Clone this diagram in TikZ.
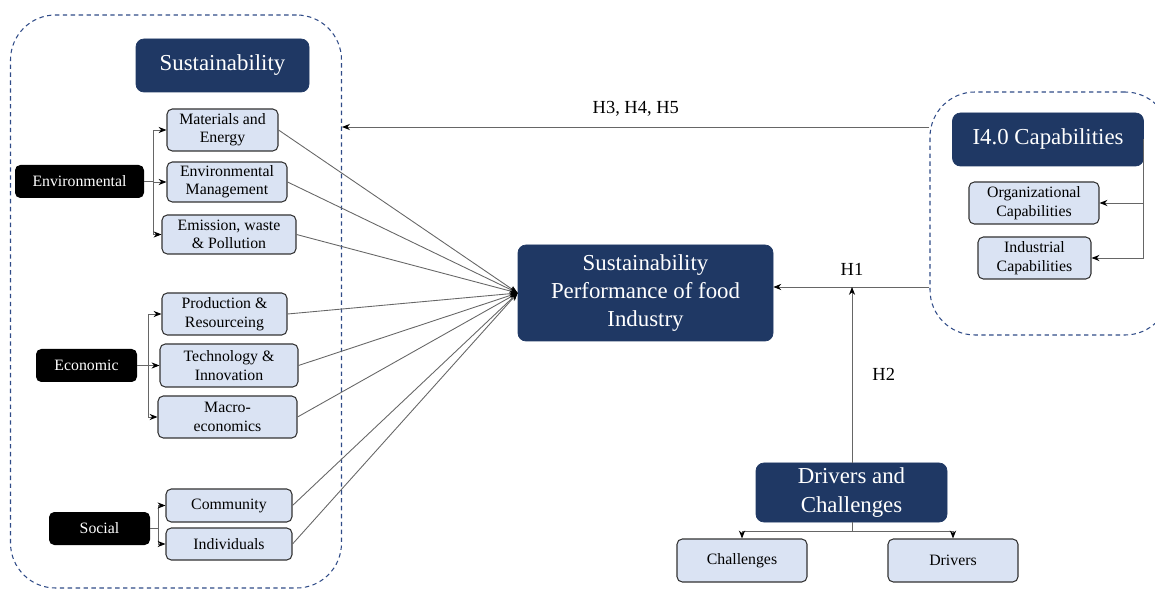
\documentclass[tikz,border=0pt]{standalone}
\usepackage{fontspec}
\setmainfont{Liberation Serif}
\usetikzlibrary{positioning,arrows.meta}

\definecolor{navy}{RGB}{31,56,100}
\definecolor{paleblue}{RGB}{218,227,243}
\definecolor{groupblue}{RGB}{47,75,135}

\begin{document}
\begin{tikzpicture}[
    x=0.02cm, y=-0.02cm,
    boxsize/.style 2 args={minimum width=#1*0.02cm, minimum height=#2*0.02cm},
    headnode/.style={rectangle, rounded corners=4.5pt, fill=navy, draw=navy, text=white,
        align=center, inner sep=0pt, font=\fontsize{13}{16}\selectfont},
    dimnode/.style={rectangle, rounded corners=3pt, fill=black, text=white,
        inner sep=0pt, font=\fontsize{9}{10.5}\selectfont},
    itemnode/.style={rectangle, rounded corners=3pt, fill=paleblue, draw=black!80, line width=0.6pt,
        align=center, inner sep=0pt, font=\fontsize{9}{10.5}\selectfont},
    groupbox/.style={rectangle, rounded corners=0.9cm, draw=groupblue, line width=0.6pt,
        dash pattern=on 2.5pt off 2pt},
    link/.style={->, >={Stealth[length=4.5pt, width=3.5pt, black]}, draw=black!60, line width=0.5pt},
    hyp/.style={font=\fontsize{10.5}{12}\selectfont, inner sep=0pt}
    ]
        \path[use as bounding box, clip] (0,0) rectangle (1155,590);

        %Groups
        \node[groupbox, boxsize={331}{573}] (susgroup) at (176,301.5) {};
        \node[groupbox, boxsize={240}{243}] (capgroup) at (1050,213.5) {};

        %Nodes
        \node[headnode, boxsize={173}{53}] (sus) at (222.5,65.5) {Sustainability};

        \node[dimnode, boxsize={129}{33}] (env) at (79.5,181.5) {Environmental};
        \node[itemnode, boxsize={111}{42}] (mat) at (222.5,130) {Materials and\\Energy};
        \node[itemnode, boxsize={120}{40}] (emg) at (227,182) {Environmental\\Management};
        \node[itemnode, boxsize={134}{39}] (emi) at (229,234.5) {Emission, waste\\\& Pollution};

        \node[dimnode, boxsize={101}{33}] (eco) at (86.5,365.5) {Economic};
        \node[itemnode, boxsize={125}{42}] (pro) at (224.5,314) {Production \&\\Resourceing};
        \node[itemnode, boxsize={138}{43}] (tec) at (229,365.5) {Technology \&\\Innovation};
        \node[itemnode, boxsize={139}{42}] (mac) at (227.5,417) {Macro-\\economics};

        \node[dimnode, boxsize={101}{33}] (soc) at (99.5,528.5) {Social};
        \node[itemnode, boxsize={126}{33}] (com) at (229,505.5) {Community};
        \node[itemnode, boxsize={126}{32}] (ind) at (229,544) {Individuals};

        \node[headnode, boxsize={255}{96}] (perf) at (645.5,293)
            {Sustainability\\Performance of food\\Industry};

        \node[headnode, boxsize={191}{53}] (cap) at (1048,139.5) {I4.0 Capabilities};
        \node[itemnode, boxsize={130}{42}] (org) at (1034,203) {Organizational\\Capabilities};
        \node[itemnode, boxsize={113}{42}] (inc) at (1034.5,258) {Industrial\\Capabilities};

        \node[headnode, boxsize={191}{59}] (dc) at (851.5,492.5) {Drivers and\\Challenges};
        \node[itemnode, boxsize={130}{43}] (cha) at (742,560.5) {Challenges};
        \node[itemnode, boxsize={130}{43}] (dri) at (953,560.5) {Drivers};

        \coordinate (h3) at (655,127);
        \coordinate (h1) at (852,287);

        %Lines
        \foreach \s in {mat,emg,emi}
            \draw[link] (env.east) -- ++(9,0) |- (\s.west);
        \foreach \s in {pro,tec,mac}
            \draw[link] (eco.east) -- ++(11,0) |- (\s.west);
        \foreach \s in {com,ind}
            \draw[link] (soc.east) -- ++(8,0) |- (\s.west);

        \foreach \s in {mat,emg,emi,pro,tec,mac,com,ind}
            \draw[link] (\s.east) -- (perf.west);

        \draw[link] (h3 -| capgroup.west) -- node[hyp, above=0.2cm] {H3, H4, H5} (h3 -| susgroup.east);
        \draw[link] (h1 -| capgroup.west) -- (h1 -| perf.east);
        \node[hyp, above=0.22cm] (h1label) at (h1) {H1};
        \draw[link] (dc.north -| h1) -- node[hyp, right=0.4cm] {H2} (h1);

        \draw[link] (cap.east) |- (org.east);
        \draw[link] (cap.east) |- (inc.east);

        \draw[link] (dc.south -| h1) -- ++(0,9) -| (cha.north);
        \draw[link] (dc.south -| h1) -- ++(0,9) -| (dri.north);
    \end{tikzpicture}
\end{document}
